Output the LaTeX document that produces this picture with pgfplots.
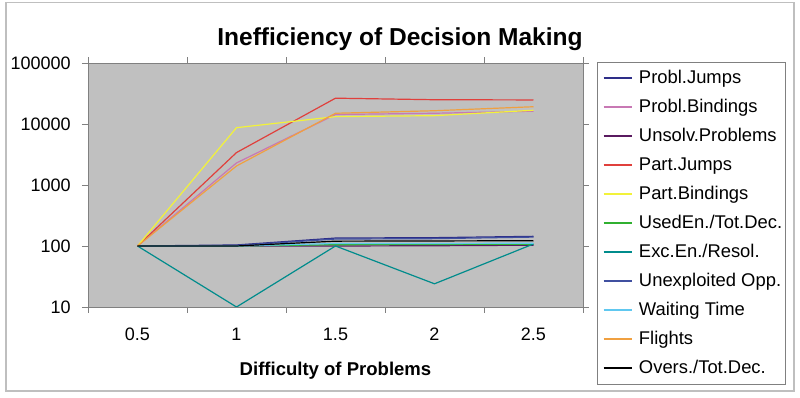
\documentclass[border=0pt]{standalone}
\usepackage{pgfplots}
\pgfplotsset{compat=1.18}
\usepackage{fontspec}
\setmainfont{Liberation Sans}
\definecolor{plotbg}{HTML}{C0C0C0}
\definecolor{axgray}{HTML}{808080}
\definecolor{cPJ}{HTML}{2E2E88}
\definecolor{cPB}{HTML}{C878B4}
\definecolor{cUP}{HTML}{5A1A60}
\definecolor{cPaJ}{HTML}{E0403C}
\definecolor{cPaB}{HTML}{F2F23A}
\definecolor{cUE}{HTML}{30B030}
\definecolor{cEE}{HTML}{008C8C}
\definecolor{cUO}{HTML}{4050A0}
\definecolor{cWT}{HTML}{60C8F0}
\definecolor{cFl}{HTML}{F0A040}
\definecolor{cOv}{HTML}{000000}
\begin{document}
\begin{tikzpicture}
\path[use as bounding box] (0,0) rectangle (600pt,298.5pt);
\draw[gray!50, line width=0.8pt] (4.5pt,5.25pt) rectangle (595.5pt,296.5pt);
\node[font=\bfseries\fontsize{18.4}{21}\selectfont] at (300pt,269pt) {Inefficiency of Decision Making};
\begin{axis}[
  at={(66pt,68.25pt)}, anchor=south west,
  scale only axis, width=371.25pt, height=183pt,
  ymode=log, ymin=10, ymax=100000,
  xmin=-0.5, xmax=4.5,
  xtick={0,1,2,3,4}, xticklabels={0.5,1,1.5,2,2.5},
  major x tick style={draw=none},
  minor xtick={-0.5,0.5,1.5,2.5,3.5,4.5},
  minor x tick style={axgray},
  ytick={10,100,1000,10000,100000},
  yticklabels={10,100,1000,10000,100000},
  yminorticks=false,
  major y tick style={axgray},
  tick align=outside,
  major tick length=4.5pt, minor tick length=4.5pt,
  axis line style={axgray},
  axis background/.style={fill=plotbg},
  tick label style={font=\fontsize{13.5}{15}\selectfont},
  /pgf/number format/assume math mode=true,
  xticklabel style={yshift=-8pt},
  yticklabel style={xshift=-5pt},
  xlabel={\bfseries Difficulty of Problems},
  xlabel style={font=\fontsize{13.9}{16}\selectfont, yshift=-9pt},
  legend style={at={(1.028,1.004)}, anchor=north west, draw=axgray,
    font=\fontsize{13.8}{15}\selectfont, row sep=3.75pt, inner xsep=0pt, inner ysep=3pt,
    nodes={text height=10.5pt, text depth=3pt, inner ysep=2.25pt}},
  legend cell align=left,
  legend image code/.code={\path (-4.5pt,0pt); \draw[#1, line width=1.2pt] (0pt,0pt) -- (21pt,0pt); \path (24pt,0pt);},
  every axis plot/.append style={line width=0.9pt},
  clip=true,
]
\addplot[color=cPJ] coordinates {(0,100) (1,104) (2,135) (3,137) (4,144)};
\addlegendentry{Probl.Jumps}
\addplot[color=cPB] coordinates {(0,100) (1,2300) (2,14300) (3,15000) (4,16200)};
\addlegendentry{Probl.Bindings}
\addplot[color=cUP] coordinates {(0,100) (1,100) (2,100) (3,101) (4,103)};
\addlegendentry{Unsolv.Problems}
\addplot[color=cPaJ] coordinates {(0,100) (1,3400) (2,26500) (3,25000) (4,24800)};
\addlegendentry{Part.Jumps}
\addplot[color=cPaB] coordinates {(0,100) (1,8700) (2,13200) (3,13700) (4,16800)};
\addlegendentry{Part.Bindings}
\addplot[color=cUE] coordinates {(0,100) (1,100) (2,105) (3,106) (4,107)};
\addlegendentry{UsedEn./Tot.Dec.}
\addplot[color=cEE] coordinates {(0,100) (1,10) (2,100) (3,24) (4,108)};
\addlegendentry{Exc.En./Resol.}
\addplot[color=cUO] coordinates {(0,100) (1,102) (2,130) (3,132) (4,140)};
\addlegendentry{Unexploited Opp.}
\addplot[color=cWT] coordinates {(0,100) (1,100) (2,110) (3,110) (4,111)};
\addlegendentry{Waiting Time}
\addplot[color=cFl] coordinates {(0,100) (1,2050) (2,15000) (3,16500) (4,19200)};
\addlegendentry{Flights}
\addplot[color=cOv] coordinates {(0,100) (1,100) (2,120) (3,121) (4,122)};
\addlegendentry{Overs./Tot.Dec.}
\end{axis}
\end{tikzpicture}
\end{document}
